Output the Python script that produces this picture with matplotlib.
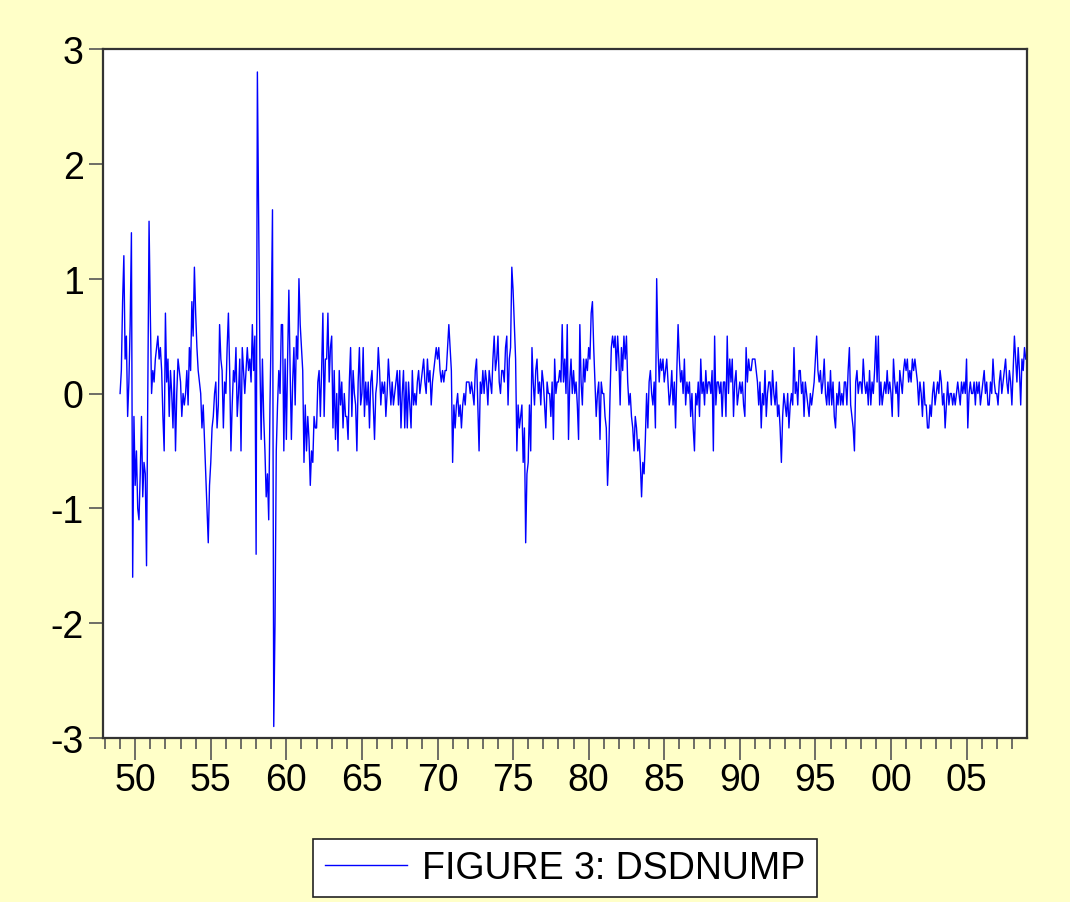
import numpy as np
import matplotlib
matplotlib.use("Agg")
import matplotlib.pyplot as plt
from matplotlib.ticker import FixedLocator


# =========================
# DATA (monthly, 1949:01 - 2008:12)
# =========================

FIRST_YEAR = 1949

dsdnump_1949_1958 = [
    0.0, 0.2, 0.8, 1.2, 0.3, 0.5, -0.2, 0.1, 0.6, 1.4, -1.6, -0.2,
    -0.8, -0.5, -1.0, -1.1, -0.7, -0.2, -0.9, -0.6, -0.7, -1.5, 0.0, 1.5,
    0.7, 0.0, 0.2, 0.1, 0.3, 0.4, 0.5, 0.3, 0.4, 0.2, -0.2, -0.5,
    0.7, 0.1, 0.3, -0.2, 0.2, 0.0, -0.3, 0.2, -0.5, 0.0, 0.3, 0.2,
    0.1, -0.2, 0.0, -0.1, 0.0, 0.2, -0.1, 0.4, 0.2, 0.8, 0.5, 1.1,
    0.7, 0.4, 0.2, 0.1, 0.0, -0.3, -0.1, -0.4, -0.7, -1.0, -1.3, -0.8,
    -0.6, -0.3, -0.2, 0.0, 0.1, -0.3, -0.1, 0.6, 0.3, 0.2, -0.3, 0.1,
    0.0, 0.4, 0.7, 0.2, -0.5, -0.1, 0.2, 0.1, 0.4, -0.2, 0.0, 0.3,
    -0.5, 0.4, 0.2, 0.0, 0.2, 0.4, 0.2, 0.3, 0.1, 0.6, 0.2, 0.5,
    -1.4, 2.8, 1.6, 0.3, -0.4, 0.3, -0.2, -0.5, -0.9, -0.7, -1.1, -0.1,
]

dsdnump_1959_1968 = [
    0.6, 1.6, -2.9, -2.0, -0.5, -0.1, 0.2, 0.0, 0.6, 0.6, -0.5, 0.3,
    -0.4, 0.3, 0.9, 0.2, -0.4, 0.1, 0.4, -0.1, 0.5, 0.3, 1.0, 0.6,
    0.4, 0.2, -0.6, -0.1, -0.5, -0.2, -0.4, -0.8, -0.5, -0.6, -0.2, -0.3,
    -0.3, 0.1, 0.2, -0.2, 0.2, 0.7, -0.2, 0.3, 0.3, 0.7, 0.1, 0.4,
    0.5, -0.3, 0.2, -0.4, 0.0, -0.5, 0.2, -0.1, 0.1, -0.3, 0.0, -0.2,
    -0.2, -0.4, 0.1, 0.4, -0.2, 0.2, 0.0, -0.1, -0.5, 0.1, 0.4, -0.1,
    0.0, 0.4, -0.2, 0.1, -0.1, 0.1, -0.3, 0.1, 0.2, -0.1, -0.4, 0.0,
    0.1, 0.4, 0.2, -0.1, 0.1, 0.0, 0.1, -0.2, 0.0, 0.3, 0.1, -0.1,
    0.1, -0.1, 0.0, 0.1, 0.2, -0.1, 0.2, -0.3, 0.0, 0.2, -0.3, 0.1,
    -0.3, 0.1, -0.1, -0.3, 0.2, -0.1, 0.0, -0.1, 0.1, 0.2, 0.0, 0.1,
]

dsdnump_1969_1978 = [
    0.2, 0.3, 0.1, 0.0, 0.3, 0.1, 0.2, -0.1, 0.1, 0.2, 0.3, 0.4,
    0.3, 0.4, 0.2, 0.1, 0.2, 0.1, 0.2, 0.2, 0.4, 0.6, 0.4, 0.2,
    -0.6, -0.1, -0.3, -0.1, 0.0, -0.2, -0.1, -0.3, -0.1, 0.0, -0.1, 0.1,
    0.1, 0.1, 0.0, 0.1, 0.0, -0.1, 0.2, 0.3, -0.1, -0.5, 0.1, 0.0,
    0.2, 0.0, 0.2, 0.1, -0.1, 0.2, 0.1, 0.0, 0.3, 0.5, 0.2, 0.3,
    0.5, 0.1, 0.0, 0.2, 0.2, 0.1, 0.4, 0.5, -0.1, 0.3, 0.4, 1.1,
    0.9, 0.6, 0.3, -0.5, -0.1, -0.3, -0.2, -0.1, -0.6, -0.3, -1.3, -0.7,
    -0.6, -0.1, -0.5, 0.4, 0.1, -0.1, 0.2, 0.3, 0.0, 0.1, -0.1, 0.2,
    0.1, -0.1, -0.3, 0.1, 0.0, 0.0, -0.2, 0.1, -0.4, 0.3, 0.0, 0.1,
    0.1, 0.2, 0.1, 0.6, 0.1, 0.3, 0.0, 0.6, -0.4, 0.1, 0.3, 0.0,
]

dsdnump_1979_1988 = [
    0.2, 0.0, 0.1, -0.1, -0.4, 0.6, 0.1, -0.1, 0.3, 0.1, 0.3, 0.2,
    0.4, 0.3, 0.7, 0.8, 0.4, 0.1, -0.2, 0.0, 0.1, -0.4, 0.1, 0.0,
    0.0, -0.2, -0.3, -0.8, -0.5, 0.0, 0.4, 0.5, 0.4, 0.5, 0.2, 0.5,
    0.3, -0.1, 0.4, 0.2, 0.5, 0.3, 0.5, 0.1, -0.1, 0.0, -0.2, -0.3,
    -0.5, -0.2, -0.3, -0.5, -0.4, -0.6, -0.9, -0.6, -0.7, -0.4, 0.0, -0.3,
    0.1, 0.2, 0.0, -0.1, 0.1, -0.3, 1.0, 0.4, 0.1, 0.3, 0.2, 0.3,
    0.1, 0.2, 0.3, 0.1, -0.1, 0.0, 0.2, -0.1, 0.1, -0.3, 0.2, 0.6,
    0.3, 0.1, 0.2, 0.0, 0.3, -0.1, 0.1, 0.0, 0.1, -0.2, 0.0, -0.3,
    -0.5, 0.0, -0.1, 0.1, -0.2, 0.3, 0.0, 0.1, -0.1, 0.2, 0.0, 0.1,
    0.1, 0.0, 0.2, -0.5, 0.5, -0.1, 0.1, 0.1, 0.0, 0.1, -0.2, 0.1,
]

dsdnump_1989_1998 = [
    0.1, -0.2, 0.5, 0.0, 0.3, 0.1, 0.3, -0.2, 0.1, 0.2, -0.1, 0.0,
    0.1, 0.0, 0.1, -0.1, -0.2, 0.4, 0.1, 0.3, 0.2, 0.2, 0.3, 0.3,
    0.3, 0.2, 0.1, -0.1, 0.1, -0.3, 0.0, -0.1, 0.2, -0.2, 0.0, 0.1,
    0.1, -0.1, 0.2, 0.0, -0.1, 0.1, -0.2, -0.1, -0.3, -0.6, -0.2, 0.0,
    -0.1, -0.2, 0.0, -0.3, -0.1, 0.0, -0.1, 0.4, 0.0, 0.1, -0.1, 0.2,
    0.2, 0.0, 0.1, -0.2, 0.1, 0.0, -0.1, -0.2, 0.0, -0.1, 0.0, 0.1,
    0.3, 0.5, 0.2, 0.1, 0.2, 0.0, 0.1, 0.3, 0.0, -0.1, 0.1, -0.1,
    0.2, -0.1, 0.1, -0.2, -0.3, 0.0, -0.1, 0.1, -0.1, 0.0, -0.1, 0.1,
    0.1, -0.1, 0.2, 0.4, -0.1, -0.2, -0.3, -0.5, 0.1, 0.2, 0.0, 0.1,
    0.1, 0.0, 0.3, 0.1, 0.0, 0.1, -0.1, 0.2, -0.1, 0.1, 0.0, 0.2,
]

dsdnump_1999_2008 = [
    0.5, 0.1, 0.5, -0.1, 0.1, -0.1, 0.0, 0.1, 0.0, 0.2, 0.0, 0.1,
    0.0, -0.2, 0.3, 0.1, 0.0, 0.1, -0.2, 0.2, 0.1, 0.0, 0.2, 0.3,
    0.2, 0.3, 0.1, 0.2, 0.1, 0.3, 0.2, 0.3, 0.2, 0.1, -0.1, 0.1,
    0.0, -0.2, 0.1, -0.1, -0.1, -0.3, -0.3, -0.1, -0.2, 0.0, 0.1, -0.1,
    0.0, 0.1, 0.0, 0.2, 0.1, -0.1, 0.0, -0.3, -0.1, 0.1, -0.1, 0.0,
    0.0, -0.1, 0.0, -0.1, 0.0, 0.1, 0.0, -0.1, 0.1, 0.0, 0.1, 0.0,
    0.3, -0.3, 0.0, 0.1, 0.0, 0.0, 0.1, -0.1, 0.1, 0.0, 0.1, -0.1,
    0.0, 0.1, 0.2, 0.0, 0.1, -0.1, -0.1, 0.1, 0.0, 0.3, 0.1, 0.0,
    0.0, -0.1, 0.1, 0.2, 0.0, 0.1, 0.2, 0.3, 0.1, 0.0, 0.2, 0.1,
    -0.1, 0.2, 0.5, 0.3, 0.1, 0.4, 0.2, -0.1, 0.3, 0.2, 0.4, 0.3,
]

ytick_values = [-3, -2, -1, 0, 1, 2, 3]
xtick_years = [1950, 1955, 1960, 1965, 1970, 1975, 1980, 1985, 1990, 1995, 2000, 2005]
xtick_labels = ["50", "55", "60", "65", "70", "75", "80", "85", "90", "95", "00", "05"]

LEGEND_LABEL = "FIGURE 3: DSDNUMP"


# =========================
# STYLE
# =========================

BG_COLOR = "#FFFFC8"
LINE_COLOR = "#0000FF"
AXIS_COLOR = "#333333"
TICK_COLOR = "#555555"
FONT = ["Liberation Sans", "DejaVu Sans"]
FONT_SIZE = 27

plt.rcParams["font.family"] = FONT


# =========================
# PLOT
# =========================

serie = np.array(
    dsdnump_1949_1958 + dsdnump_1959_1968 + dsdnump_1969_1978
    + dsdnump_1979_1988 + dsdnump_1989_1998 + dsdnump_1999_2008
)
fechas = FIRST_YEAR + np.arange(len(serie)) / 12.0

fig = plt.figure(figsize=(10.70, 9.03), dpi=100, facecolor=BG_COLOR)
ax = fig.add_axes([103 / 1070, 1 - 739 / 903, 924 / 1070, 689 / 903])
ax.set_facecolor("white")

ax.plot(fechas, serie, color=LINE_COLOR, linewidth=1.0, label=LEGEND_LABEL)

ax.set_xlim(1947.87, 2009.0)
ax.set_ylim(-3, 3)

ax.set_yticks(ytick_values)
ax.set_yticklabels([str(v) for v in ytick_values])
ax.set_xticks(xtick_years)
ax.set_xticklabels(xtick_labels)
ax.xaxis.set_minor_locator(FixedLocator(list(range(1948, 2009))))

ax.tick_params(axis="y", direction="out", length=10, width=1.2,
               color=TICK_COLOR, labelsize=FONT_SIZE, pad=4)
ax.tick_params(axis="x", which="major", direction="out", length=16, width=1.2,
               color=TICK_COLOR, labelsize=FONT_SIZE, pad=1)
ax.tick_params(axis="x", which="minor", direction="out", length=8, width=1.2,
               color=TICK_COLOR)
ax.tick_params(top=False, right=False)

for lado in ["left", "right", "top", "bottom"]:
    ax.spines[lado].set_color(AXIS_COLOR)
    ax.spines[lado].set_linewidth(1.6)

leg = fig.legend(
    loc="center",
    bbox_to_anchor=(565 / 1070, 1 - 869 / 903),
    fontsize=FONT_SIZE,
    frameon=True,
    fancybox=False,
    handlelength=2.2,
    handletextpad=0.4,
    borderpad=0.3,
)
leg.get_frame().set_edgecolor("#222222")
leg.get_frame().set_linewidth(1.2)
leg.get_frame().set_facecolor("white")
leg.get_frame().set_alpha(1.0)

fig.savefig("out.png", dpi=100, facecolor=BG_COLOR)
plt.close(fig)
